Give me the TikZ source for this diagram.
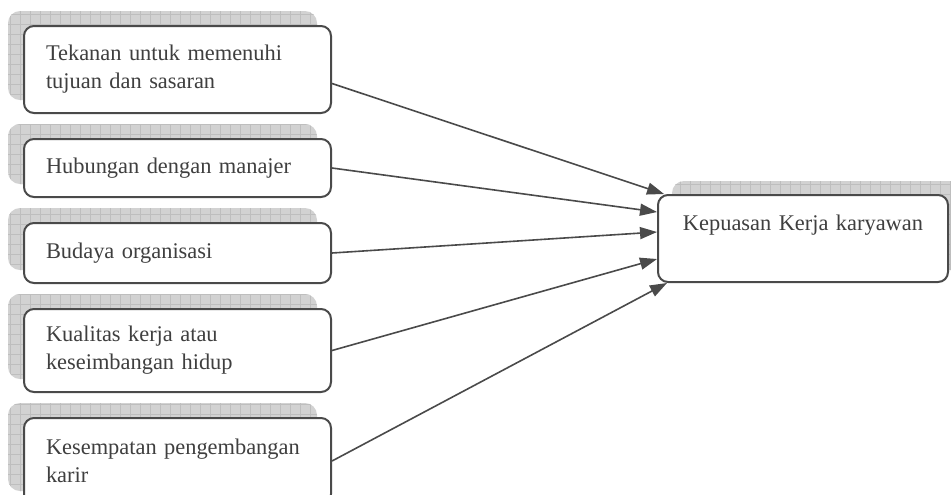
\documentclass[tikz,border=0pt]{standalone}
\usepackage{fontspec}
\setmainfont{Liberation Serif}
\usetikzlibrary{arrows.meta,positioning,calc,patterns.meta,backgrounds}
\definecolor{inkgray}{HTML}{4A4A4A}
\definecolor{txtgray}{HTML}{3F3F3F}
\definecolor{shadegray}{HTML}{D2D2D2}
\definecolor{gridgray}{HTML}{BEBEBE}

\begin{document}
\begin{tikzpicture}[x=0.5pt,y=-0.5pt,node distance=12pt,>={Triangle[length=8.5pt,width=6pt]}]
  \tikzstyle{factor}=[draw=inkgray,line width=1pt,rounded corners=5pt,fill=white,align=left,text width=131.5pt,inner xsep=11pt,inner ysep=0pt,text=txtgray,font=\fontsize{11.2}{14}\selectfont]
  \tikzstyle{shade}=[fill=shadegray,rounded corners=6pt,postaction={pattern={Hatch[distance=5pt,angle=0,line width=0.4pt]},pattern color=gridgray}]
  \tikzstyle{link}=[->,draw=inkgray,line width=0.8pt]
  \useasboundingbox (0,0) rectangle (951,494);

  % faktor-faktor
  \node[factor,minimum height=43.5pt,anchor=north west] (tekanan) at (23,25) {Tekanan untuk memenuhi\\tujuan dan sasaran};
  \node[factor,minimum height=29pt,below=of tekanan] (manajer) {Hubungan dengan manajer};
  \node[factor,minimum height=30pt,below=of manajer] (budaya) {Budaya organisasi};
  \node[factor,minimum height=41.5pt,below=of budaya] (kualitas) {Kualitas kerja atau\\keseimbangan hidup};
  \node[factor,minimum height=43pt,below=of kualitas] (karir) {Kesempatan pengembangan\\karir};

  % kepuasan
  \node[factor,align=center,text width=123pt,minimum height=43.5pt,text height=8pt,text depth=16pt] (puas) at (803,238.5) {Kepuasan Kerja karyawan};

  \begin{scope}[on background layer]
    \foreach \n in {tekanan,manajer,budaya,kualitas,karir}
      \path[shade] ([shift={(-7.5pt,7pt)}]\n.south west) rectangle ([shift={(-7.5pt,7pt)}]\n.north east);
    \path[shade] ([shift={(7.5pt,6.5pt)}]puas.south west) rectangle ([shift={(7.5pt,6.5pt)}]puas.north east);
  \end{scope}

  \draw[link] ([yshift=-7pt]tekanan.east) -- ([xshift=3.5pt]puas.north west);
  \draw[link] (manajer.east) -- ([yshift=-9pt]puas.north west);
  \draw[link] (budaya.east) -- ([yshift=-19pt]puas.north west);
  \draw[link] (kualitas.east) -- ([yshift=-32.5pt]puas.north west);
  \draw[link] (karir.east) -- ([xshift=5pt]puas.south west);
\end{tikzpicture}
\end{document}
